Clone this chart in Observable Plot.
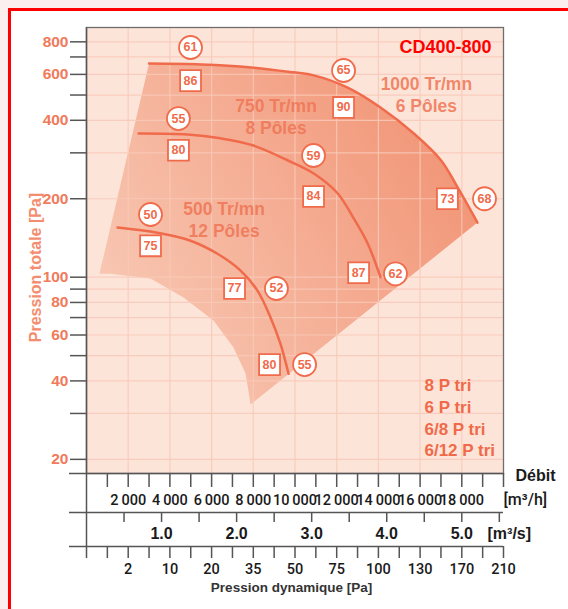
<!DOCTYPE html>
<html><head><meta charset="utf-8">
<script src="https://cdn.jsdelivr.net/npm/d3@7"></script>
<script src="https://cdn.jsdelivr.net/npm/@observablehq/plot@0.6"></script>
<style>
html,body{margin:0;padding:0;width:568px;height:609px;overflow:hidden;background:#fcefef;}
#page{position:absolute;left:8px;top:8px;width:560px;height:601px;background:#fff;border-top:3.5px solid #ff0000;border-left:3.5px solid #ff0000;box-sizing:border-box;}
#chart{position:absolute;left:0;top:0;}
</style></head><body><div id="page"></div><div id="chart"></div>
<script>
// ---- data (débit m³/h, pression totale Pa) ----
const curve1000Debit = [3000, 5500, 7900, 9900, 10900, 12500, 14100, 15700, 17000, 17800, 18750];
const curve1000Press = [660, 655, 638, 611, 595, 535, 448, 356, 281, 221, 162];
const curve750Debit = [2500, 4850, 6430, 8010, 9640, 10900, 12040, 12800, 13480, 14100];
const curve750Press = [356, 353, 341, 320, 281, 250, 210, 169, 135, 100];
const curve500Debit = [1490, 3400, 4990, 6280, 7390, 8200, 8830, 9300, 9690];
const curve500Press = [155, 148, 138, 123, 106, 88.8, 69.9, 55.6, 42.6];
// lower envelope of the operating zone (after the 1000 Tr/mn curve)
const envLowDebit = [7870, 7630, 7050, 6090, 4650, 3070, 1150, 620];
const envLowPress = [32.5, 42.7, 53.7, 68.2, 83.6, 98.9, 103, 103];

const circleDebit = [4990, 12330, 4410, 10890, 14820, 19090, 3070, 9110, 10460];
const circlePress = [761, 621, 406, 293, 103, 200, 174, 90.5, 46.2];
const circleLabels = ["61", "65", "55", "59", "62", "68", "50", "52", "55"];
const squareDebit = [4990, 12330, 4410, 10890, 13050, 17310, 3070, 7100, 8780];
const squarePress = [568, 448, 307, 204, 104, 200, 132, 90.5, 46.2];
const squareLabels = ["86", "90", "80", "84", "87", "73", "75", "77", "80"];

const rpmLabels = ["750 Tr/mn\n8 Pôles", "1000 Tr/mn\n6 Pôles", "500 Tr/mn\n12 Pôles"];
const rpmDebit = [9090, 16300, 6600];
const rpmPress = [414, 504, 168];
const motorLegend = ["8 P tri\n6 P tri\n6/8 P tri\n6/12 P tri"];
const motorDebit = [16210];
const motorPress = [29.1];

const yLabelled = [800, 600, 400, 200, 100, 80, 60, 40, 20];
const yMinor = [700, 500, 300, 90, 70, 50, 30];
const xGrid = [2000, 4000, 6000, 8000, 10000, 12000, 14000, 16000, 18000];
const debitTicks = [1000, 2000, 3000, 4000, 5000, 6000, 7000, 8000, 9000, 10000, 11000, 12000, 13000, 14000, 15000, 16000, 17000, 18000, 19000, 20000];
const debitLabelled = [2000, 4000, 6000, 8000, 10000, 12000, 14000, 16000, 18000];
const secTicks = [0.5, 1.0, 1.5, 2.0, 2.5, 3.0, 3.5, 4.0, 4.5, 5.0, 5.5];
const secLabelled = [1.0, 2.0, 3.0, 4.0, 5.0];
const dynLabels = ["", "2", "", "10", "", "20", "", "35", "", "50", "", "75", "", "100", "", "130", "", "170", "", "210"];

const yDomain = [17.65, 908];
const salmon = "#f06b4b";
const ff = "'Liberation Sans', Arial, Helvetica, sans-serif";
const ffAxis = "Roboto, 'Liberation Sans', Arial, sans-serif";
const pts = (xs, ys) => xs.map((x, i) => ({x, y: ys[i]}));
const lab = (xs, ys, ts) => xs.map((x, i) => ({x, y: ys[i], t: ts[i]}));

const envelope = pts(curve1000Debit.concat(envLowDebit), curve1000Press.concat(envLowPress));
const dynMap = new Map(debitTicks.map((d, i) => [d, dynLabels[i]]));
const fmtDebit = d => debitLabelled.some(v => Math.abs(v - d) < 1) ? d3.format(",")(Math.round(d)).replace(",", "\u2009") : "";

const axisCommon = {anchor: "bottom", stroke: "#555", strokeWidth: 1.5, fill: "#1a1a1a", label: null};

const plot = Plot.plot({
  width: 568, height: 609,
  marginLeft: 86, marginRight: 65, marginTop: 27, marginBottom: 136,
  style: {fontFamily: ff, background: "transparent", overflow: "visible"},
  x: {domain: [0, 20000], label: null},
  y: {type: "log", domain: yDomain, label: null},
  marks: [
    Plot.frame({fill: "#fde4d9", stroke: "none"}),
    Plot.line(envelope, {x: "x", y: "y", fill: "url(#envGrad)", stroke: "none"}),
    Plot.gridX(xGrid, {stroke: "#f8c9b7", strokeOpacity: 0.85, strokeWidth: 1.2}),
    Plot.gridY(yLabelled.concat(yMinor), {stroke: "#f8c9b7", strokeOpacity: 0.85, strokeWidth: 1.2}),
    Plot.line(pts(curve1000Debit, curve1000Press), {x: "x", y: "y", stroke: salmon, strokeWidth: 2.5, curve: "catmull-rom"}),
    Plot.line(pts(curve750Debit, curve750Press), {x: "x", y: "y", stroke: salmon, strokeWidth: 2.5, curve: "catmull-rom"}),
    Plot.line(pts(curve500Debit, curve500Press), {x: "x", y: "y", stroke: salmon, strokeWidth: 2.5, curve: "catmull-rom"}),
    Plot.text(lab(rpmDebit, rpmPress, rpmLabels), {x: "x", y: "y", text: "t", fill: "#ef7555", fillOpacity: 0.85, fontSize: 17.5, fontWeight: "bold", lineHeight: 1.257}),
    Plot.text(lab(motorDebit, motorPress, motorLegend), {x: "x", y: "y", text: "t", textAnchor: "start", fill: "#f06a48", fontSize: 17, fontWeight: "bold", lineHeight: 1.276}),
    Plot.dot(lab(circleDebit, circlePress, circleLabels), {x: "x", y: "y", r: 11.5, symbol: "circle", fill: "white", stroke: salmon, strokeWidth: 1.8}),
    Plot.dot(lab(squareDebit, squarePress, squareLabels), {x: "x", y: "y", r: 11.8, symbol: "square", fill: "white", stroke: salmon, strokeWidth: 1.8}),
    Plot.text(lab(circleDebit, circlePress, circleLabels), {x: "x", y: "y", text: "t", fill: salmon, fontSize: 12.5, fontWeight: "bold"}),
    Plot.text(lab(squareDebit, squarePress, squareLabels), {x: "x", y: "y", text: "t", fill: salmon, fontSize: 12.5, fontWeight: "bold"}),
    Plot.text(["CD400-800"], {frameAnchor: "top-right", dx: -12, dy: 20, textAnchor: "end", lineAnchor: "middle", fill: "#ff0000", fontSize: 18, fontWeight: "bold"}),
    Plot.frame({stroke: "#6e6e6e", strokeWidth: 1.3}),
    // y axis
    Plot.axisY(yLabelled, {anchor: "left", tickSize: 16, tickPadding: 2, text: d => String(d), fill: "#f07a5a", fontSize: 15.5, fontWeight: "bold", stroke: "#555", strokeWidth: 1.5, label: null}),
    Plot.axisY(yMinor, {anchor: "left", tickSize: 16, fill: "none", stroke: "#555", strokeWidth: 1.5, label: null}),
    Plot.text(["Pression totale [Pa]"], {frameAnchor: "left", rotate: -90, dx: -51, dy: 17, textAnchor: "middle", lineAnchor: "middle", fill: "#f48d70", fontSize: 16, fontWeight: "bold"}),
    Plot.ruleX([0], {insetBottom: -85, stroke: "#555", strokeWidth: 1.5}),
    // lower axes lines
    Plot.ruleY([yDomain[0]], {insetLeft: -17, stroke: "#555", strokeWidth: 1.5}),
    Plot.ruleY([yDomain[0]], {insetLeft: -17, dy: 39, stroke: "#555", strokeWidth: 1.5}),
    Plot.ruleY([yDomain[0]], {insetLeft: -17, dy: 73, stroke: "#555", strokeWidth: 1.5}),
    // débit m³/h
    Plot.axisX(debitTicks, {...axisCommon, tickSize: 14, tickPadding: 7, tickFormat: fmtDebit, fontSize: 14.5, fontFamily: ffAxis, fontWeight: 500}),
    // débit m³/s
    Plot.axisX(secTicks.map(v => v * 3600), {...axisCommon, dy: 39, tickSize: 10, tickPadding: 5, tickFormat: d => secLabelled.some(v => Math.abs(v - d / 3600) < 1e-6) ? d3.format(".1f")(d / 3600) : "", fontSize: 16, fontWeight: "bold"}),
    // pression dynamique
    Plot.axisX(debitTicks, {...axisCommon, dy: 73, tickSize: 12, tickPadding: 5, tickFormat: d => dynMap.get(Math.round(d)) ?? "", fontSize: 14.5, fontFamily: ffAxis, fontWeight: 500}),
    Plot.text(["Débit"], {frameAnchor: "bottom-right", textAnchor: "start", lineAnchor: "middle", dx: 12, dy: 2, fill: "#1a1a1a", fontSize: 16, fontWeight: "bold"}),
    Plot.text(["[m³/h]"], {frameAnchor: "bottom-right", textAnchor: "start", lineAnchor: "middle", dx: 0, dy: 26, fill: "#1a1a1a", fontSize: 16, fontFamily: ffAxis, fontWeight: 500}),
    Plot.text(["[m³/s]"], {frameAnchor: "bottom-right", textAnchor: "start", lineAnchor: "middle", dx: -16, dy: 60, fill: "#1a1a1a", fontSize: 16, fontWeight: "bold"}),
    Plot.text(["Pression dynamique [Pa]"], {frameAnchor: "bottom", textAnchor: "middle", lineAnchor: "middle", dx: -3.5, dy: 114, fill: "#333", fontSize: 13.5, fontWeight: "bold"})
  ]
});

const svg = d3.select(plot);
const defs = svg.insert("defs", ":first-child");
const g = defs.append("linearGradient").attr("id", "envGrad").attr("gradientUnits", "userSpaceOnUse")
  .attr("x1", 110).attr("y1", 320).attr("x2", 420).attr("y2", 130);
g.append("stop").attr("offset", 0).attr("stop-color", "#f8c8b4");
g.append("stop").attr("offset", 1).attr("stop-color", "#f2987a");
document.getElementById("chart").append(plot);
</script></body></html>
